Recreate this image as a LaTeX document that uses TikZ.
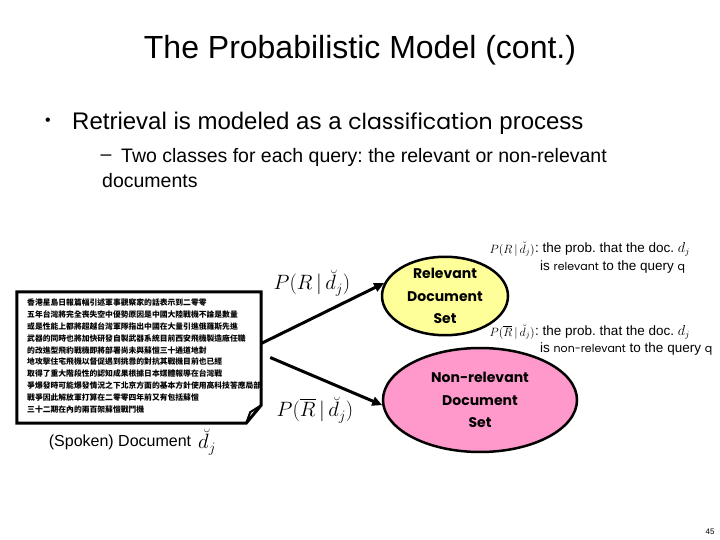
\documentclass[tikz,border=0pt]{standalone}
\usepackage{amsmath}
\usepackage{fontspec}
\setmainfont{Liberation Sans}
\newfontfamily\comic{Poppins}
\newfontfamily\cjk{Noto Sans CJK TC}
\usetikzlibrary{shapes.geometric,arrows.meta}
\definecolor{relyellow}{HTML}{FFFF99}
\definecolor{nonpink}{HTML}{FF99CC}
\newcommand{\docvec}{\breve{d}}
\newcommand{\hand}[1]{{\comic\fontsize{11}{14}\selectfont #1}}
\frenchspacing
\tikzset{
  docset/.style={ellipse, draw, line width=2.5pt, inner sep=0pt, align=center,
    font=\comic\bfseries\fontsize{14}{22.5}\selectfont},
  flow/.style={line width=3pt, -{Triangle[length=10pt,width=9pt]}},
  note/.style={anchor=west, inner sep=0pt, font=\fontsize{13.5}{16}\selectfont},
}
\begin{document}
\begin{tikzpicture}[x=1pt,y=-1pt]
	\useasboundingbox (0,0) rectangle (720,540);
	% title and bullets
	\node[font=\fontsize{32}{38}\selectfont] (title) at (360,50) {The Probabilistic Model (cont.)};
	\node[font=\fontsize{16}{18}\selectfont] (dot1) at (48,122) {\textbullet};
	\node[anchor=west, inner sep=0pt, font=\fontsize{24}{28}\selectfont] (b1) at (72,123) {Retrieval is modeled as a {\comic\fontsize{22}{28}\selectfont classification} process};
	\node[font=\fontsize{19.5}{22}\selectfont] (dash1) at (106,158) {--};
	\node[anchor=west, inner sep=0pt, font=\fontsize{19.5}{22}\selectfont] (b2) at (121,157) {Two classes for each query: the relevant or non-relevant};
	\node[anchor=west, inner sep=0pt, font=\fontsize{19.5}{22}\selectfont] (b3) at (102,181) {documents};
	% the document
	\node[minimum width=244pt, minimum height=131pt, inner sep=0pt] (doc) at (139,357.5) {};
	\draw[line width=3pt] (doc.north west) -- (doc.north east) -- ([yshift=18pt]doc.south east)
		-- ([xshift=-15pt]doc.south east) -- (doc.south west) -- cycle;
	\draw[line width=2pt] ([xshift=-15pt]doc.south east) -- ([xshift=-11pt,yshift=11pt]doc.south east)
		-- ([yshift=18pt]doc.south east);
	\node[anchor=north west, inner sep=0pt, align=left, font=\cjk\bfseries\fontsize{7.8}{11.8}\selectfont] (news) at (27,299) {%
		香港星島日報篇幅引述軍事觀察家的話表示到二零零\\
		五年台灣將完全喪失空中優勢原因是中國大陸戰機不論是數量\\
		或是性能上都將超越台灣軍隊指出中國在大量引進俄羅斯先進\\
		武器的同時也將加快研發自製武器系統目前西安飛機製造廠任職\\
		的改進型飛豹戰機即將部署尚未與蘇愷三十通道地對\\
		地攻擊住宅飛機以督促遇到挑釁的對抗其戰機目前也已經\\
		取得了重大階段性的認知成果根據日本媒體報導在台灣戰\\
		爭爆發時可能爆發情況之下北京方面的基本方針使用高科技答應局部\\
		戰爭因此解放軍打算在二零零四年前又有包括蘇愷\\
		三十二期在內的兩百架蘇愷戰鬥機};
	\node[font=\fontsize{16}{19}\selectfont] (spoken) at (120,442) {(Spoken) Document};
	\node[anchor=west, font=\fontsize{22}{26}\selectfont] (dj) at (spoken.east) {$\docvec_j$};
	% the two classes
	\node[docset, fill=relyellow, minimum width=126pt, minimum height=68pt] (rel) at (445,296) {Relevant\\Document\\Set};
	\node[docset, fill=nonpink, minimum width=194pt, minimum height=104pt] (nonrel) at (480,400) {Non-relevant\\Document\\Set};
	\draw[flow] ([yshift=14pt]doc.east) -- (rel.168);
	\draw[flow] ([xshift=9pt]doc.east) -- (nonrel.183);
	\node[font=\fontsize{22}{26}\selectfont] (prel) at (312,283) {$P(R\,|\,\docvec_j)$};
	\node[font=\fontsize{22}{26}\selectfont] (pnon) at (315,410) {$P(\overline{R}\,|\,\docvec_j)$};
	% notes on the right
	\node[anchor=east, inner sep=0pt, font=\fontsize{12}{14}\selectfont] (p1) at (535,249) {$P(R\,|\,\docvec_j)$};
	\node[note] (n1) at (p1.east) {: the prob. that the doc. $d_j$};
	\node[note] (n2) at (540,267) {is \hand{relevant} to the query \hand{q}};
	\node[anchor=east, inner sep=0pt, font=\fontsize{12}{14}\selectfont] (p2) at (535,332) {$P(\overline{R}\,|\,\docvec_j)$};
	\node[note] (n3) at (p2.east) {: the prob. that the doc. $d_j$};
	\node[note] (n4) at (540,349) {is \hand{non-relevant} to the query \hand{q}};
	\node[font=\fontsize{8}{9}\selectfont] (page) at (710,532) {45};
\end{tikzpicture}
\end{document}
